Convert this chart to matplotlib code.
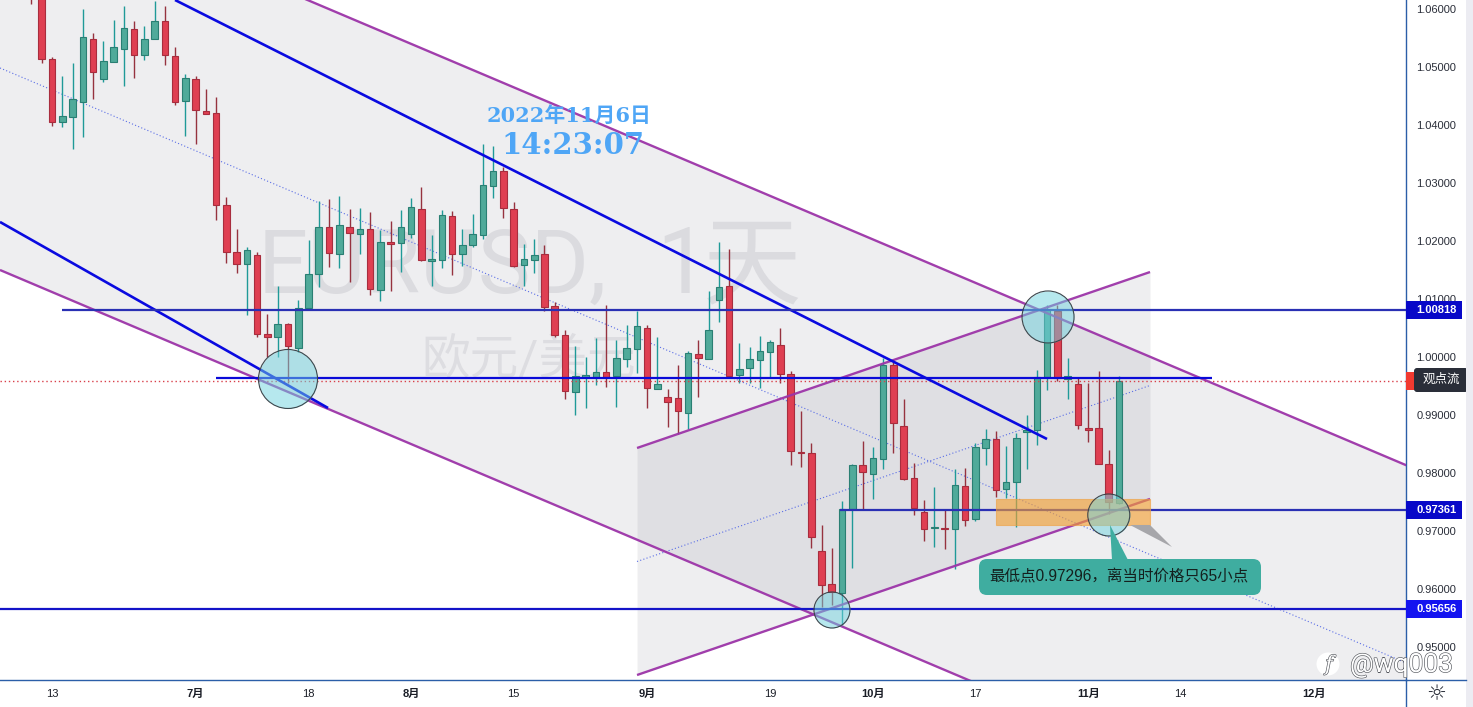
import matplotlib
matplotlib.use("Agg")
import matplotlib.pyplot as plt
import matplotlib.patheffects as pe
from matplotlib.lines import Line2D
from matplotlib.patches import Circle, FancyBboxPatch, Polygon, Rectangle
from matplotlib.transforms import IdentityTransform
import numpy as np

plt.rcParams["font.family"] = ["Liberation Sans", "Noto Sans CJK SC"]

# daily candles, first bar is two days before 13 Jun 2022 (bar index 0)
FIRST_BAR = -2
opens = [
    1.06600, 1.06400, 1.05138, 1.04052, 1.04138, 1.04396, 1.05483, 1.04793, 1.05086, 1.05310,
    1.05655, 1.05207, 1.05483, 1.05793, 1.05190, 1.04414, 1.04793, 1.04241, 1.04207, 1.02621,
    1.01810, 1.01603, 1.01759, 1.00397, 1.00345, 1.00569, 1.00155, 1.00845, 1.01431, 1.02241,
    1.01776, 1.02241, 1.02121, 1.02207, 1.01155, 1.01983, 1.01965, 1.02121, 1.02552, 1.01655,
    1.01672, 1.02431, 1.01776, 1.01931, 1.02103, 1.02948, 1.03207, 1.02552, 1.01586, 1.01672,
    1.01776, 1.00879, 1.00379, 0.99397, 0.99655, 0.99655, 0.99741, 0.99672, 0.99965, 1.00138,
    1.00500, 0.99448, 0.99310, 0.99293, 0.99035, 1.00052, 0.99965, 1.00983, 1.01224, 0.99690,
    0.99810, 0.99948, 1.00086, 1.00207, 0.99707, 0.98362, 0.98345, 0.96655, 0.96086, 0.95931,
    0.97379, 0.98138, 0.97983, 0.98241, 0.99862, 0.98810, 0.97914, 0.97328, 0.97052, 0.97052,
    0.97035, 0.97776, 0.97207, 0.98431, 0.98586, 0.97724, 0.97845, 0.98707, 0.98741, 0.99655,
    1.00793, 0.99621, 0.99534, 0.98776, 0.98776, 0.98155, 0.97483,
]
closes = [
    1.06250, 1.05138, 1.04052, 1.04155, 1.04448, 1.05517, 1.04914, 1.05103, 1.05345, 1.05672,
    1.05207, 1.05483, 1.05793, 1.05207, 1.04396, 1.04810, 1.04259, 1.04190, 1.02621, 1.01810,
    1.01603, 1.01845, 1.00397, 1.00345, 1.00569, 1.00190, 1.00845, 1.01431, 1.02241, 1.01793,
    1.02276, 1.02138, 1.02207, 1.01172, 1.01983, 1.01948, 1.02241, 1.02586, 1.01672, 1.01690,
    1.02448, 1.01776, 1.01931, 1.02121, 1.02965, 1.03207, 1.02569, 1.01569, 1.01690, 1.01759,
    1.00862, 1.00379, 0.99414, 0.99672, 0.99690, 0.99741, 0.99655, 0.99983, 1.00155, 1.00534,
    0.99465, 0.99534, 0.99224, 0.99069, 1.00069, 0.99983, 1.00465, 1.01207, 0.99672, 0.99793,
    0.99965, 1.00103, 1.00259, 0.99707, 0.98379, 0.98345, 0.96897, 0.96069, 0.95948, 0.97379,
    0.98138, 0.98017, 0.98259, 0.99862, 0.98862, 0.97897, 0.97397, 0.97035, 0.97069, 0.97035,
    0.97793, 0.97190, 0.98448, 0.98586, 0.97707, 0.97845, 0.98603, 0.98741, 0.99655, 1.00810,
    0.99638, 0.99672, 0.98828, 0.98741, 0.98155, 0.97500, 0.99586,
]
highs = [
    1.07000, 1.06600, 1.05172, 1.04845, 1.05069, 1.06000, 1.05586, 1.05448, 1.05810, 1.06052,
    1.05793, 1.05707, 1.06138, 1.06052, 1.05345, 1.04879, 1.04845, 1.04621, 1.04483, 1.02759,
    1.02207, 1.01896, 1.01810, 1.00741, 1.01224, 1.00586, 1.00983, 1.02017, 1.02690, 1.02724,
    1.02776, 1.02552, 1.02569, 1.02500, 1.02190, 1.02345, 1.02534, 1.02741, 1.02931, 1.02103,
    1.02534, 1.02517, 1.02207, 1.02465, 1.03672, 1.03638, 1.03276, 1.02672, 1.01948, 1.02034,
    1.01931, 1.00948, 1.00465, 1.00190, 1.00000, 1.00327, 1.00896, 1.00293, 1.00552, 1.00793,
    1.00552, 1.00345, 0.99448, 0.99862, 1.00103, 1.00293, 1.01138, 1.01983, 1.01862, 1.00241,
    1.00172, 1.00362, 1.00293, 1.00500, 0.99759, 0.99069, 0.98517, 0.97103, 0.96707, 0.97517,
    0.98155, 0.98552, 0.98448, 0.99983, 0.99914, 0.99276, 0.98172, 0.97534, 0.97759, 0.97362,
    0.98069, 0.98086, 0.98517, 0.98759, 0.98724, 0.98465, 0.98690, 0.99000, 0.99776, 1.00896,
    1.00896, 0.99983, 0.99655, 0.99552, 0.99759, 0.98397, 0.99672,
]
lows = [
    1.06086, 1.05069, 1.03983, 1.03965, 1.03586, 1.03793, 1.04448, 1.04741, 1.05086, 1.04672,
    1.04810, 1.05121, 1.05483, 1.05034, 1.04345, 1.03810, 1.03672, 1.04190, 1.02362, 1.01621,
    1.01448, 1.00724, 1.00345, 1.00000, 1.00000, 0.99552, 1.00086, 1.00810, 1.01207, 1.01552,
    1.01534, 1.01293, 1.01776, 1.01069, 1.00965, 1.01138, 1.01465, 1.02052, 1.01655, 1.01224,
    1.01534, 1.01414, 1.01569, 1.01896, 1.02034, 1.02741, 1.02396, 1.01552, 1.01224, 1.01448,
    1.00793, 1.00345, 0.99276, 0.99000, 0.99121, 0.99517, 0.99483, 0.99138, 0.99828, 0.99724,
    0.99121, 0.99448, 0.98793, 0.98672, 0.98759, 0.99310, 0.99965, 1.00603, 0.99655, 0.99552,
    0.99552, 0.99465, 0.99655, 0.99552, 0.98138, 0.98103, 0.96707, 0.95690, 0.95724, 0.95379,
    0.96362, 0.97362, 0.97552, 0.98069, 0.98345, 0.97879, 0.97276, 0.96828, 0.96724, 0.96690,
    0.96345, 0.97086, 0.97172, 0.98138, 0.97586, 0.97569, 0.97069, 0.98069, 0.98483, 0.99431,
    0.99586, 0.99276, 0.98759, 0.98534, 0.98155, 0.97296, 0.97465,
]

price_ticks = [0.95, 0.96, 0.97, 0.98, 0.99, 1.00, 1.01, 1.02, 1.03, 1.04, 1.05, 1.06]
date_ticks = [0, 14, 25, 35, 45, 58, 70, 80, 90, 101, 110, 123]
date_labels = ["13", "7月", "18", "8月", "15", "9月", "19", "10月", "17", "11月", "14", "12月"]

# horizontal levels: price, first bar, last bar, tag shown on the price axis
levels = [
    (1.00818, 0.97, 132.0, True),
    (0.99638, 15.98, 113.06, False),
    (0.97361, 76.8, 132.0, True),
    (0.95656, -5.1, 132.0, True),
]
last_price = 0.99586

# drawing tools, (bar, price) anchors
down_channel_top = [(-5.07, 1.08400), (132.0, 0.98133)]
down_channel_mid = [(-5.07, 1.04983), (132.0, 0.94724)]
down_channel_bottom = [(-5.07, 1.01500), (132.0, 0.91234)]
up_channel_top = [(57.02, 0.98431), (107.02, 1.01465)]
up_channel_mid = [(57.02, 0.96474), (107.02, 0.99509)]
up_channel_bottom = [(57.02, 0.94517), (107.02, 0.97552)]
trend_upper = [(11.99, 1.06155), (96.98, 0.98586)]
trend_lower = [(-5.07, 1.02328), (26.9, 0.99121)]
zone_bars = [92.0, 107.02]
zone_prices = [0.97103, 0.97552]
# bar, price, diameter in px
circles = [(23.0, 0.99621, 59), (97.08, 1.00690, 52), (103.0, 0.97276, 42), (76.02, 0.95638, 36)]

GREEN_FACE, GREEN_EDGE, GREEN_WICK = "#50aa9a", "#2a7f73", "#1f9a98"
RED_FACE, RED_EDGE, RED_WICK = "#df3f52", "#a82d3e", "#96323f"
FRAME = "#2b5ea8"
PURPLE = "#9c34a8"
FILL = "#7a7a86"

W, H = 1473, 707
fig = plt.figure(figsize=(W / 100, H / 100), dpi=100, facecolor="white")
ax = fig.add_axes([0, 27 / H, 1406 / W, 680 / H])
ax.set_xlim(-5.07, 131.97)
ax.set_ylim(0.94431, 1.06155)
pixel = IdentityTransform()


def at(px, py):
    # screen pixel from the top left corner, used for the overlays only
    return px, H - py


def draw_line(points, **kwargs):
    xs, ys = zip(*points)
    ax.plot(xs, ys, solid_capstyle="butt", **kwargs)


def fill_channel(top, bottom):
    ax.fill_between(
        [top[0][0], top[1][0]],
        [bottom[0][1], bottom[1][1]],
        [top[0][1], top[1][1]],
        color=FILL,
        alpha=0.12,
        linewidth=0,
        zorder=1,
    )


fill_channel(down_channel_top, down_channel_bottom)
fill_channel(up_channel_top, up_channel_bottom)

# chart watermark
mark_style = dict(transform=pixel, color="#dbdbdf", va="baseline", ha="left", zorder=1.5)
ax.text(*at(258, 293), "EURUSD,", fontsize=64, family="Roboto", **mark_style)
ax.text(*at(656, 293), "1", fontsize=66, family="Roboto", **mark_style)
ax.text(*at(703, 296), "天", fontsize=71, family="Noto Sans CJK SC", **mark_style)
ax.text(*at(421, 361), "欧元/美元", transform=pixel, fontsize=35,
        family=["Roboto", "Noto Sans CJK SC"], color="#dddde1", va="center", ha="left", zorder=1.5)

for line in (down_channel_mid, up_channel_mid):
    draw_line(line, color="#5a6ee6", lw=0.8, ls=(0, (1, 2)), zorder=2)

# candles
bars = np.arange(len(opens)) + FIRST_BAR
o, c, hi, lo = map(np.array, (opens, closes, highs, lows))
up = c >= o
ax.vlines(bars[up], lo[up], hi[up], color=GREEN_WICK, lw=1.0, zorder=3)
ax.vlines(bars[~up], lo[~up], hi[~up], color=RED_WICK, lw=1.0, zorder=3)
ax.bar(bars[up], (c - o)[up], bottom=o[up], width=0.64, color=GREEN_FACE,
       edgecolor=GREEN_EDGE, linewidth=0.8, zorder=3.2)
ax.bar(bars[~up], (c - o)[~up], bottom=o[~up], width=0.64, color=RED_FACE,
       edgecolor=RED_EDGE, linewidth=0.8, zorder=3.2)

ax.axhline(last_price, color="#d9404a", lw=1.0, ls=(0, (1, 2)), zorder=3.5)

for line in (down_channel_top, down_channel_bottom, up_channel_top, up_channel_bottom):
    draw_line(line, color=PURPLE, lw=1.7, alpha=0.95, zorder=4)
for line in (trend_upper, trend_lower):
    draw_line(line, color="#0a0ae0", lw=1.9, zorder=4.1)

level_colors = ["#2a30b4", "#0a0ad8", "#2a30b4", "#1414c8"]
for (price, start, stop, _), color in zip(levels, level_colors):
    ax.plot([start, stop], [price, price], color=color, lw=1.6, zorder=4.2,
            solid_capstyle="butt")

# support zone
ax.add_patch(Rectangle((zone_bars[0], zone_prices[0]), zone_bars[1] - zone_bars[0],
                       zone_prices[1] - zone_prices[0], facecolor="#f5a030", edgecolor="#f0a040",
                       lw=0.8, alpha=0.62, zorder=4.5))

for bar, price, diameter in circles:
    ax.scatter(bar, price, s=(diameter * 0.72) ** 2, facecolor="#6fd2de", alpha=0.5,
               linewidth=0, zorder=5)
    ax.scatter(bar, price, s=(diameter * 0.72) ** 2, facecolor="none", edgecolor="#3c464c",
               linewidth=0.8, zorder=5.1)

# axes
for side in ("top", "left"):
    ax.spines[side].set_visible(False)
for side in ("right", "bottom"):
    ax.spines[side].set_color(FRAME)
    ax.spines[side].set_linewidth(1.0)
ax.yaxis.tick_right()
ax.set_yticks(price_ticks)
ax.set_yticklabels([f"{p:.5f}" for p in price_ticks], fontsize=8, color="#2a2e39")
ax.tick_params(axis="y", length=0, pad=7.5)
ax.set_xticks(date_ticks)
ax.set_xticklabels(date_labels, fontsize=8, color="#1a1d26")
for label in ax.get_xticklabels():
    if "月" in label.get_text():
        label.set_fontweight("bold")
ax.tick_params(axis="x", length=0, pad=6.5)

fig.add_artist(Line2D([1406 / W, 1406 / W], [0, 27 / H], color=FRAME, lw=1.0))
fig.add_artist(Line2D([1406 / W, 1466 / W], [27 / H, 27 / H], color=FRAME, lw=1.0))
fig.add_artist(Rectangle((1466 / W, 0), 7 / W, 1, transform=fig.transFigure,
                         facecolor="#ececf2", edgecolor="none"))
fig.text(1436 / W, 1 - 694 / H, "☼", fontsize=16, family="DejaVu Sans", ha="center",
         va="center", color="#2a2e39")

# price tags on the axis
axis_x = ax.get_yaxis_transform()
tag_colors = ["#0808c8", "#0808c8", "#1414f0"]
tagged = [level for level in levels if level[3]]
for (price, *_), color in zip(tagged, tag_colors):
    ax.add_patch(Rectangle((1.0, price - 0.00155), 56 / 1406, 0.0031, transform=axis_x,
                           facecolor=color, edgecolor="none", clip_on=False, zorder=8))
    ax.text(1 + 10.5 / 1406, price, f"{price:.5f}", transform=axis_x, fontsize=8,
            color="white", va="center", ha="left", weight="bold", zorder=9)

ax.add_patch(Rectangle((1.0, last_price - 0.0016), 10 / 1406, 0.0032, transform=axis_x,
                       facecolor="#f23a30", edgecolor="none", clip_on=False, zorder=8))
ax.add_patch(FancyBboxPatch(at(1414, 392), 54, 24, boxstyle="round,pad=0,rounding_size=3",
                            transform=pixel, facecolor="#2a2e39", edgecolor="none",
                            clip_on=False, zorder=9))
ax.add_patch(Polygon([at(1468, 375), at(1472, 380), at(1468, 385)], transform=pixel,
                     facecolor="#2a2e39", edgecolor="none", clip_on=False, zorder=9))
ax.text(*at(1441, 380), "观点流", transform=pixel, fontsize=9, color="white",
        ha="center", va="center", zorder=10)

# clock overlay pasted on the screenshot
ax.text(*at(569, 116), "2022年11月6日", transform=pixel, fontsize=15,
        family=["DejaVu Serif", "Noto Sans CJK SC"], weight="bold", color="#4fa6f6",
        ha="center", va="center", zorder=7)
ax.text(*at(573, 145), "14:23:07", transform=pixel, fontsize=21,
        family=["DejaVu Serif", "Noto Sans CJK SC"], weight="bold", color="#4fa6f6",
        ha="center", va="center", zorder=7)

# callout
ax.add_patch(Polygon([at(1130, 525), at(1172, 547), at(1150, 525)], transform=pixel,
                     facecolor="#a6a6aa", edgecolor="none", zorder=6))
ax.add_patch(Polygon([at(1110, 525), at(1112, 560), at(1128, 560)], transform=pixel,
                     facecolor="#3fada0", edgecolor="none", zorder=6))
ax.add_patch(FancyBboxPatch(at(979, 595), 282, 36, boxstyle="round,pad=0,rounding_size=8",
                            transform=pixel, facecolor="#3fada0", edgecolor="none", zorder=6))
ax.text(*at(989, 577), "最低点0.97296，离当时价格只65小点", transform=pixel, fontsize=11.2,
        color="#14201e", ha="left", va="center", zorder=7)

# site watermark, bottom right
outline = [pe.withStroke(linewidth=0.9, foreground="#55585e")]
fig.add_artist(Circle(at(1328, 664), 11.5, transform=pixel, facecolor="white", edgecolor="none"))
fig.text(1329 / W, 1 - 665 / H, "f", fontsize=15, style="italic", color="white",
         ha="center", va="center", path_effects=outline, family="DejaVu Serif")
fig.text(1350 / W, 1 - 665 / H, "@wq003", fontsize=19, color="white", ha="left",
         va="center", path_effects=outline, family="Roboto")

fig.savefig("out.png", dpi=100, facecolor="white")
